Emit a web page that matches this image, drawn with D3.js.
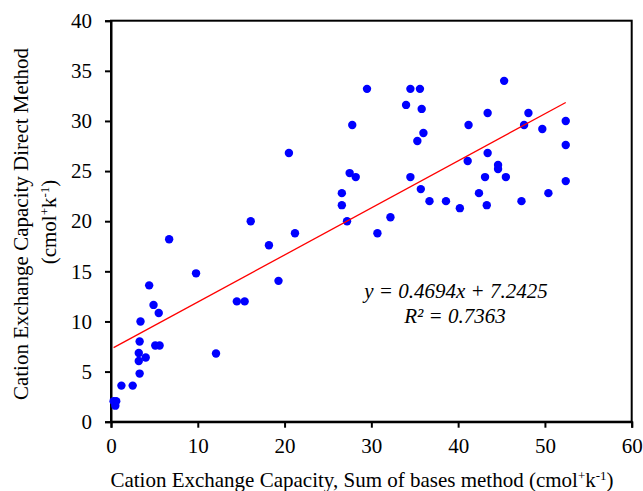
<!DOCTYPE html>
<html>
<head>
<meta charset="utf-8">
<script src="https://cdn.jsdelivr.net/npm/d3@7"></script>
<style>
  body { margin: 0; background: #fff; }
  svg text { font-family: "Liberation Serif", "Times New Roman", serif; fill: #000; }
</style>
</head>
<body>
<div id="chart"></div>
<script>
// data
const xValues = [0.3, 0.6, 0.5, 1.2, 2.5, 3.3, 3.2, 3.2, 4.0, 3.3, 3.4, 4.9, 5.5, 5.1, 5.6, 12.1, 14.5, 15.4,
  4.4, 6.7, 9.8, 16.1, 18.2, 19.3, 20.5, 21.2, 29.5, 27.8, 27.5, 28.2, 26.6, 26.6, 27.2, 30.7, 32.2,
  34.5, 35.6, 34.0, 35.8, 41.2, 36.0, 35.3, 34.5, 35.7, 36.7, 38.6, 40.2, 41.1,
  45.3, 43.4, 48.1, 47.6, 49.7, 52.4, 52.4, 43.4, 44.6, 44.6, 43.1, 45.5, 52.4, 42.4, 43.3, 47.3, 50.4];
const yValues = [2.05, 2.05, 1.6, 3.6, 3.6, 4.8, 6.05, 6.85, 6.4, 8.0, 10.0, 11.65, 10.85, 7.6, 7.6, 6.8, 12.0, 12.0,
  13.6, 18.2, 14.8, 20.0, 17.6, 14.05, 26.8, 18.8, 33.2, 29.6, 24.8, 24.4, 22.8, 21.6, 20.0, 18.8, 20.4,
  33.2, 33.2, 31.6, 31.2, 29.6, 28.8, 28.0, 24.4, 23.2, 22.0, 22.0, 21.3, 26.0,
  34.0, 30.8, 30.8, 29.6, 29.2, 30.0, 27.6, 26.8, 25.6, 25.2, 24.4, 24.4, 24.0, 22.8, 21.6, 22.0, 22.8];
const xTicks = [0, 10, 20, 30, 40, 50, 60];
const yTicks = [0, 5, 10, 15, 20, 25, 30, 35, 40];
const slope = 0.4694, intercept = 7.2425, rSquared = 0.7363;

const width = 643, height = 491;
const margin = { left: 111, right: 11.3, top: 20.7, bottom: 69.3 };
const serif = "Liberation Serif, Times New Roman, serif";

const svg = d3.select("#chart").append("svg")
  .attr("width", width).attr("height", height)
  .attr("font-family", serif);

const x = d3.scaleLinear().domain([0, 60]).range([margin.left, width - margin.right]);
const y = d3.scaleLinear().domain([0, 40]).range([height - margin.bottom, margin.top]);

// frame
svg.append("rect")
  .attr("x", x(0)).attr("y", y(40))
  .attr("width", x(60) - x(0)).attr("height", y(0) - y(40))
  .attr("fill", "none").attr("stroke", "#000").attr("stroke-width", 2);

// axes
const xAxis = svg.append("g")
  .attr("transform", "translate(0," + y(0) + ")")
  .call(d3.axisBottom(x).tickValues(xTicks).tickSize(6).tickPadding(10));
const yAxis = svg.append("g")
  .attr("transform", "translate(" + x(0) + ",0)")
  .call(d3.axisLeft(y).tickValues(yTicks).tickSize(6).tickPadding(13));

[xAxis, yAxis].forEach(g => {
  g.attr("font-family", serif).attr("font-size", 21);
  g.select(".domain").attr("stroke-width", 2);
  g.selectAll(".tick line").attr("stroke-width", 2);
  g.selectAll(".tick text").attr("fill", "#000");
});

// points
svg.append("g").selectAll("circle")
  .data(xValues.map((v, i) => [v, yValues[i]]))
  .join("circle")
  .attr("cx", d => x(d[0]))
  .attr("cy", d => y(d[1]))
  .attr("r", 4.2)
  .attr("fill", "#0000ff");

// trend line
const xMin = d3.min(xValues), xMax = d3.max(xValues);
svg.append("line")
  .attr("x1", x(xMin)).attr("y1", y(slope * xMin + intercept))
  .attr("x2", x(xMax)).attr("y2", y(slope * xMax + intercept))
  .attr("stroke", "#ff0000").attr("stroke-width", 1.3);

// equation
svg.append("text")
  .attr("x", 456).attr("y", 298)
  .attr("text-anchor", "middle")
  .style("font-size", "21px").style("font-style", "italic")
  .text("y = " + slope + "x + " + intercept);
svg.append("text")
  .attr("x", 455).attr("y", 323)
  .attr("text-anchor", "middle")
  .style("font-size", "21px").style("font-style", "italic")
  .text("R² = " + rSquared);

// axis titles
function unitLabel(t, before) {
  t.append("tspan").text(before + "(cmol");
  t.append("tspan").attr("dy", -7).style("font-size", "13px").text("+");
  t.append("tspan").attr("dy", 7).text("k");
  t.append("tspan").attr("dy", -7).style("font-size", "13px").text("-1");
  t.append("tspan").attr("dy", 7).text(")");
}

const xTitle = svg.append("text")
  .attr("x", 362).attr("y", 487)
  .attr("text-anchor", "middle")
  .style("font-size", "21px");
unitLabel(xTitle, "Cation Exchange Capacity, Sum of bases method ");

svg.append("text")
  .attr("transform", "translate(28,224) rotate(-90)")
  .attr("text-anchor", "middle")
  .style("font-size", "21px")
  .text("Cation Exchange Capacity Direct Method");
const yTitle2 = svg.append("text")
  .attr("transform", "translate(56,222) rotate(-90)")
  .attr("text-anchor", "middle")
  .style("font-size", "21px");
unitLabel(yTitle2, "");
</script>
</body>
</html>
